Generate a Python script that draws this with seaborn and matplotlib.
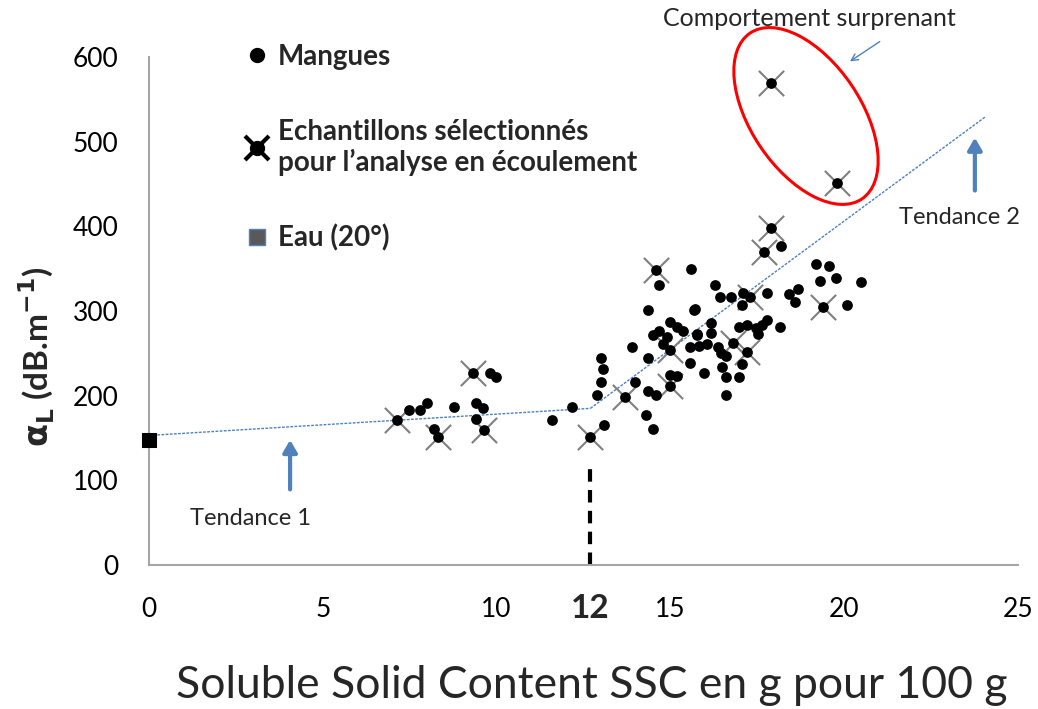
import matplotlib
matplotlib.use("Agg")
import matplotlib.pyplot as plt
import seaborn as sns
import pandas as pd
from matplotlib.lines import Line2D
from matplotlib.patches import Ellipse
from matplotlib.legend_handler import HandlerTuple

# mangoes: SSC (g / 100 g) vs attenuation alpha_L (dB/m)
mango_ssc = [7.48, 7.80, 8.0, 8.77, 9.41, 9.6, 9.41, 8.2, 9.8, 9.98,
             11.6, 12.17, 12.89, 13.0, 13.07, 13.0, 13.1, 13.9, 13.98,
             14.3, 14.5, 14.36, 14.6, 14.36, 14.36, 14.67, 15.6, 15.68,
             14.99, 15.19, 15.36, 14.67, 14.5, 14.9, 14.8, 15.76, 15.56, 15.56,
             14.99, 15.19,
             18.18, 19.19, 19.56, 19.3, 19.76, 20.48, 16.28, 16.43, 16.74, 17.09,
             17.06, 17.78, 18.41, 18.67, 18.58, 20.08, 15.71, 16.17, 15.76, 16.17,
             16.05, 15.82, 16.37, 16.45, 16.6, 16.97, 17.2, 17.46, 17.64, 17.78,
             17.52, 18.15, 15.97, 16.48, 16.6, 16.97, 17.06, 16.6]
mango_alpha = [183, 183, 191, 187, 191, 185, 173, 161, 227, 222,
               171, 187, 201, 216, 231, 244, 165, 257, 216,
               177, 161, 205, 201, 244, 301, 331, 350, 301,
               287, 281, 276, 276, 272, 269, 261, 272, 257, 239,
               224, 223,
               377, 355, 353, 336, 339, 334, 331, 316, 316, 321,
               307, 321, 320, 326, 311, 307, 302, 286, 273, 274,
               261, 259, 258, 250, 247, 281, 283, 280, 283, 289,
               273, 281, 227, 234, 222, 222, 237, 201]

# samples selected for the flow analysis
sel_ssc = [7.13, 8.31, 9.32, 9.64, 12.69, 13.7, 14.6, 15.0, 15.0, 16.8,
           17.2, 17.3, 17.7, 17.9, 19.4, 17.9, 19.8]
sel_alpha = [171, 151, 227, 159, 151, 198, 348, 254, 212, 262,
             252, 316, 370, 398, 305, 569, 451]

water_ssc = [0]
water_alpha = [148]

trend1_ssc = [0, 12.7]
trend1_alpha = [153, 185]
trend2_ssc = [12.7, 24.05]
trend2_alpha = [185, 529]

threshold_ssc = 12.7
threshold_label = "12"

sns.set_theme(style="white")
plt.rcParams["font.family"] = ["Lato", "DejaVu Sans"]

df_mango = pd.DataFrame({"ssc": mango_ssc + sel_ssc, "alpha": mango_alpha + sel_alpha})
df_sel = pd.DataFrame({"ssc": sel_ssc, "alpha": sel_alpha})
df_water = pd.DataFrame({"ssc": water_ssc, "alpha": water_alpha})

fig = plt.figure(figsize=(10.38, 7.09), dpi=100)
ax = fig.add_axes([0.1435, 0.2031, 0.8372, 0.7165])

blue = "#4F81BD"
ax.plot(trend1_ssc, trend1_alpha, color=blue, lw=1, dashes=(2, 1))
ax.plot(trend2_ssc, trend2_alpha, color=blue, lw=1, dashes=(2, 1))

sns.scatterplot(data=df_sel, x="ssc", y="alpha", marker="x", s=330,
                color="#7F7F7F", linewidth=1.5, ax=ax, zorder=3)
sns.scatterplot(data=df_mango, x="ssc", y="alpha", marker="o", s=60,
                color="black", edgecolor="black", linewidth=0, ax=ax, zorder=4)
sns.scatterplot(data=df_water, x="ssc", y="alpha", marker="s", s=90,
                color="black", edgecolor="black", ax=ax, zorder=5, clip_on=False)

# threshold
ax.plot([threshold_ssc, threshold_ssc], [0, 114], color="black", lw=3,
        dashes=(3, 2), zorder=2)
ax.text(threshold_ssc, -0.085, threshold_label, transform=ax.get_xaxis_transform(),
        ha="center", va="center", fontsize=24, fontweight="bold")

ax.set_xlim(0, 25)
ax.set_ylim(0, 600)
ax.set_xticks(range(0, 26, 5))
ax.set_yticks(range(0, 601, 100))
sns.despine(ax=ax)
for s in ["left", "bottom"]:
    ax.spines[s].set_color("#A6A6A6")
    ax.spines[s].set_linewidth(1.5)
ax.tick_params(axis="both", direction="out", length=8, width=1.5,
               color="#A6A6A6", labelcolor="black")
ax.tick_params(axis="x", pad=15, labelsize=19)
ax.tick_params(axis="y", pad=14, labelsize=19)

ax.set_xlabel("Soluble Solid Content SSC en g pour 100 g", fontsize=32)
ax.xaxis.set_label_coords(0.509, -0.197)
ax.set_ylabel(r"$\mathbf{\alpha_L}$ (dB.m$^{\mathbf{-1}}$)", fontsize=24,
              fontweight="bold")
ax.yaxis.set_label_coords(-0.106, 0.41)

# annotations
arrow_thick = dict(arrowstyle="-|>,head_width=0.35,head_length=0.6", lw=3, color=blue)
ax.annotate("", xy=(4.06, 151), xytext=(4.06, 86), arrowprops=arrow_thick)
ax.text(2.93, 55, "Tendance 1", ha="center", va="center", fontsize=17)
ax.annotate("", xy=(23.76, 508), xytext=(23.76, 439), arrowprops=arrow_thick)
ax.text(23.33, 411, "Tendance 2", ha="center", va="center", fontsize=17)
ax.annotate("", xy=(20.1, 593), xytext=(21.09, 620), annotation_clip=False,
            arrowprops=dict(arrowstyle="->", lw=1, color=blue))
ax.text(19.0, 646, "Comportement surprenant", ha="center", va="center",
        fontsize=18, clip_on=False)
fig.add_artist(Ellipse((8.06, 5.93), 2.0, 1.1, angle=-56,
                       transform=fig.dpi_scale_trans, fill=False,
                       edgecolor="red", lw=2.2))

# legend
h_mango = Line2D([], [], marker="o", ls="", color="black", markersize=10)
h_x = Line2D([], [], marker="x", ls="", color="black", markersize=17,
             markeredgewidth=3)
h_water = Line2D([], [], marker="s", ls="", markerfacecolor="#595959",
                 markeredgecolor=blue, markersize=12)
leg = ax.legend([h_mango, (h_x, h_mango), h_water],
                ["Mangues", "Echantillons sélectionnés\npour l\u2019analyse en écoulement",
                 "Eau (20°)"],
                handler_map={tuple: HandlerTuple(ndivide=1)},
                loc="upper left", bbox_to_anchor=(0.083, 1.075), frameon=False,
                prop={"size": 20, "weight": "bold"}, labelspacing=1.75,
                handlelength=0.8, handletextpad=0.35)
leg.get_texts()[1].set_linespacing(1.2)

fig.savefig("out.png", dpi=100)
